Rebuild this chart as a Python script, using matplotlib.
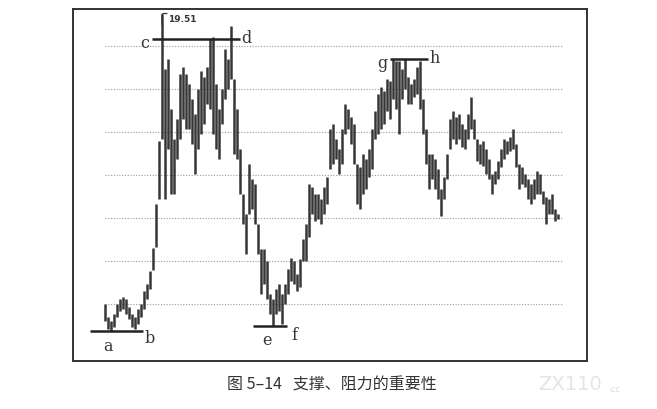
import numpy as np
import matplotlib
matplotlib.use("Agg")
import matplotlib.pyplot as plt

# daily price bars (high / low per session)
highs = [6.00, 5.40, 5.21, 5.53, 6.00, 6.23, 6.33, 6.23, 5.86, 5.53,
         5.40, 5.77, 6.00, 6.60, 6.93, 7.53, 8.60, 10.65, 13.58, 19.51,
         16.93, 17.40, 15.07, 13.67, 14.60, 16.70, 17.02, 16.70, 16.23, 15.54,
         14.84, 16.00, 16.84, 16.56, 17.02, 18.33, 18.42, 16.23, 15.07, 16.00,
         17.86, 17.40, 18.93, 16.47, 15.07, 13.21, 11.12, 10.19, 12.51, 11.81,
         11.58, 9.72, 8.56, 8.56, 8.00, 6.47, 6.23, 6.70, 6.93, 6.47,
         6.93, 7.63, 8.14, 8.00, 7.40, 8.09, 9.02, 9.72, 11.58, 11.44,
         11.12, 11.12, 10.88, 11.44, 11.91, 14.14, 14.37, 13.67, 13.21, 14.14,
         15.30, 15.07, 14.70, 14.37, 12.51, 12.37, 12.98, 12.74, 13.21, 14.14,
         14.98, 15.77, 16.09, 15.91, 16.47, 16.37, 17.40, 17.30, 17.30, 16.93,
         17.40, 16.56, 16.23, 16.47, 17.02, 17.30, 15.54, 14.14, 12.98, 12.98,
         12.74, 12.28, 11.35, 11.91, 12.98, 14.60, 14.98, 14.70, 14.84, 14.37,
         14.14, 14.84, 15.63, 14.60, 13.67, 13.44, 13.58, 13.21, 12.74, 12.05,
         12.19, 12.65, 13.21, 13.67, 13.58, 13.77, 14.14, 13.44, 12.51, 12.37,
         12.05, 11.81, 11.58, 11.81, 12.19, 12.05, 11.26, 10.98, 10.88, 11.12,
         10.42, 10.19]
lows = [5.21, 4.84, 4.74, 4.93, 5.40, 5.67, 5.77, 5.53, 5.30, 4.93,
        4.84, 5.07, 5.40, 5.77, 6.23, 6.70, 7.60, 8.65, 10.88, 13.67,
        10.88, 13.21, 11.12, 11.12, 12.74, 13.67, 14.60, 14.14, 14.14, 13.44,
        12.05, 13.21, 13.91, 14.37, 15.30, 15.07, 13.91, 13.21, 12.74, 14.37,
        15.54, 16.00, 16.47, 12.98, 12.74, 11.12, 9.72, 8.33, 10.19, 10.42,
        9.72, 8.33, 6.47, 6.93, 6.23, 5.53, 4.98, 5.53, 5.67, 5.07,
        6.00, 6.47, 7.07, 6.93, 6.60, 6.79, 8.00, 8.00, 9.12, 10.19,
        9.86, 9.95, 9.72, 10.19, 10.65, 12.28, 12.51, 12.74, 12.05, 12.51,
        13.91, 14.14, 13.44, 12.51, 10.65, 10.42, 11.12, 11.35, 11.91, 12.28,
        13.67, 13.91, 14.14, 14.37, 14.98, 14.60, 15.54, 15.07, 13.91, 15.54,
        16.00, 15.30, 15.30, 15.63, 15.77, 15.07, 13.91, 12.51, 11.35, 11.81,
        11.35, 10.88, 10.09, 10.88, 11.81, 13.21, 13.67, 13.44, 13.67, 13.30,
        13.21, 13.67, 14.14, 13.67, 12.65, 12.51, 12.42, 12.05, 11.81, 11.12,
        11.58, 11.81, 12.37, 12.74, 12.98, 13.12, 13.21, 12.37, 11.35, 11.58,
        11.44, 10.88, 10.65, 10.88, 11.12, 11.12, 10.65, 9.72, 10.19, 10.19,
        9.86, 9.95]

grid_levels = [6, 8, 10, 12, 14, 16, 18]
peak_label = "19.51"

# support / resistance segments: letters, level, start bar, end bar
sr_names = [("a", "b"), ("c", "d"), ("e", "f"), ("g", "h")]
sr_levels = [4.74, 18.33, 4.98, 17.40]
sr_start = [-5, 15.7, 49.3, 95]
sr_end = [12.7, 45, 60.7, 107.7]

caption = "图 5–14   支撑、阻力的重要性"

bars = np.arange(len(highs))
ink = "#363636"

fig = plt.figure(figsize=(6.57, 4.10), dpi=100)
ax = fig.add_axes([0.1111, 0.1171, 0.7823, 0.8585])

for lvl in grid_levels:
    ax.hlines(lvl, 0, 152.3, colors="#9a9a9a", linestyles=(0, (1, 1.5)), lw=0.8)

ax.vlines(bars, lows, highs, colors=ink, lw=1.8)

# peak marker
ipk = int(np.argmax(highs))
ax.plot([ipk, ipk, ipk + 0.4, ipk + 1.6],
        [highs[ipk] - 0.5, highs[ipk] - 0.05, highs[ipk], highs[ipk]],
        color=ink, lw=0.9)
ax.text(ipk + 2.0, highs[ipk] - 0.25, peak_label, fontsize=6.5, fontweight="bold",
        color=ink, ha="left", va="center", family="DejaVu Sans")

# support / resistance lines and their letters
lbl_font = dict(fontsize=11.5, color=ink, family="DejaVu Serif")
for (n1, n2), lvl, x0, x1 in zip(sr_names, sr_levels, sr_start, sr_end):
    ax.hlines(lvl, x0, x1, colors="#222222", lw=1.8)
    if lvl < 10:
        ax.text(x0 + 6.0 if n1 == "a" else x0 + 4.7, lvl - 0.65, n1,
                ha="center", va="center", **lbl_font)
        ax.text(x1 + 2.3, lvl - 0.3 if n2 == "b" else lvl - 0.4, n2,
                ha="center", va="center", **lbl_font)
    else:
        ax.text(x0 - 2.4, lvl - 0.15, n1, ha="center", va="center", **lbl_font)
        ax.text(x1 + 2.1, lvl + 0.08, n2, ha="center", va="center", **lbl_font)

ax.set_xlim(-10.67, 160.67)
ax.set_ylim(3.35, 19.72)
ax.set_xticks([])
ax.set_yticks([])
for s in ax.spines.values():
    s.set_color("#333333")
    s.set_linewidth(1.4)

fig.text(0.505, 0.061, caption, ha="center", va="center", fontsize=11.5,
         color="#333333", family=["Noto Sans CJK SC", "DejaVu Sans"])
fig.text(0.868, 0.061, "ZX110", ha="center", va="center", fontsize=14,
         color="#e4e4e4", family="DejaVu Sans")
fig.text(0.925, 0.050, ".cc", ha="left", va="center", fontsize=6,
         color="#d8d8d8", family="DejaVu Sans")

fig.savefig("out.png", dpi=100, facecolor="white")
